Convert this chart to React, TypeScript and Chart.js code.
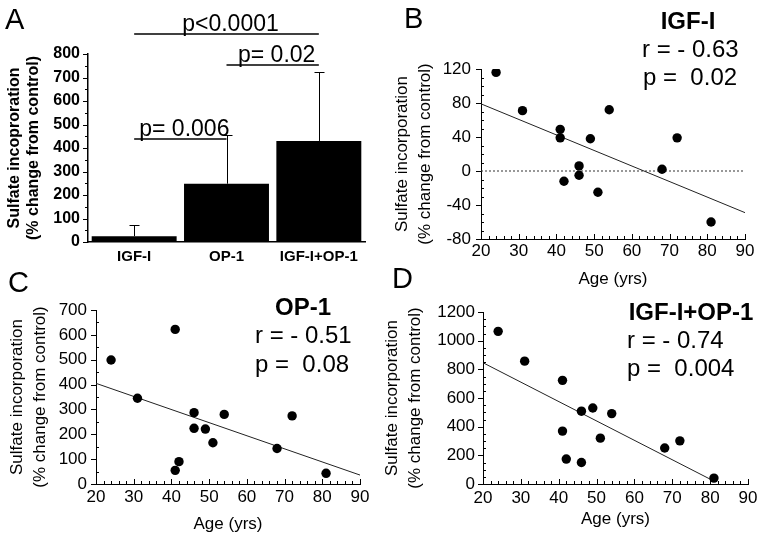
import React, { useEffect, useRef } from 'react';
import { Chart, registerables } from 'chart.js';

Chart.register(...registerables);

const FONT = "'Liberation Sans', Arial, Helvetica, sans-serif";

// ---------- Panel A data ----------
const barCategories = ['IGF-I', 'OP-1', 'IGF-I+OP-1'];
const barMeans = [25, 248, 430];
const barSD = [47, 207, 292];
const barYMin = 0;
const barYMax = 800;
const barYStep = 100;
const sigFrom = [0, 1, 0];
const sigTo = [1, 2, 2];
const sigLevel = [438, 753, 885];
const sigLabels = ['p= 0.006', 'p= 0.02', 'p<0.0001'];

// ---------- Panels B, C, D data ----------
const ages = [24, 31, 41, 41, 42, 46, 46, 49, 51, 54, 68, 72, 81];
const igfValues = [116, 71, 49, 39, -12, 6, -5, 38, -25, 72, 2, 39, -60];
const op1Values = [499, 345, 622, 55, 90, 287, 224, 221, 166, 280, 143, 274, 43];
const comboValues = [1065, 857, 723, 369, 174, 508, 150, 530, 320, 491, 251, 301, 41];

const igfFitX = [20, 90];
const igfFitY = [79, -49];
const op1FitX = [20, 90];
const op1FitY = [405, 36];
const comboFitX = [20, 80.5];
const comboFitY = [846, 27];
const zeroLineX = [20, 90];
const zeroLineY = [0, 0];

const ageMin = 20;
const ageMax = 90;
const ageStep = 10;

// ---------- helpers ----------
const fixW = (w: number) => (s: any) => {
  s.width = w;
  s.paddingTop = 0; s.paddingBottom = 0; s.paddingLeft = 0; s.paddingRight = 0;
};
const fixH = (h: number) => (s: any) => {
  s.height = h;
  s.paddingTop = 0; s.paddingBottom = 0; s.paddingLeft = 0; s.paddingRight = 0;
};
const plainTick = (v: any) => String(v);

type TickSpec = { axis: 'x' | 'y'; major: number; minor: number; majorOut: number; majorIn: number; minorOut: number; minorIn: number };

function makeTickPlugin(specs: TickSpec[]) {
  return {
    id: 'tickMarks',
    afterDraw(chart: any) {
      const ctx = chart.ctx;
      const area = chart.chartArea;
      ctx.save();
      ctx.strokeStyle = '#000';
      ctx.lineWidth = 1;
      ctx.beginPath();
      for (const s of specs) {
        const sc = chart.scales[s.axis];
        const n = Math.round((sc.max - sc.min) / s.minor);
        for (let i = 0; i <= n; i++) {
          const v = sc.min + i * s.minor;
          const r = v / s.major;
          const isMajor = Math.abs(r - Math.round(r)) < 1e-6;
          const out = isMajor ? s.majorOut : s.minorOut;
          const inn = isMajor ? s.majorIn : s.minorIn;
          const p = Math.round(sc.getPixelForValue(v)) + 0.5;
          if (s.axis === 'y') {
            const x0 = Math.round(area.left);
            ctx.moveTo(x0 - out, p);
            ctx.lineTo(x0 + inn, p);
          } else {
            const y0 = Math.round(area.bottom);
            ctx.moveTo(p, y0 + out);
            ctx.lineTo(p, y0 - inn);
          }
        }
      }
      ctx.stroke();
      ctx.restore();
    },
  };
}

type TextItem = { text: string; x: number; y: number; font: string; align?: CanvasTextAlign };

function makeTextPlugin(items: TextItem[]) {
  return {
    id: 'panelText',
    afterDraw(chart: any) {
      const ctx = chart.ctx;
      ctx.save();
      ctx.fillStyle = '#000';
      ctx.textBaseline = 'alphabetic';
      for (const t of items) {
        ctx.font = t.font;
        ctx.textAlign = t.align || 'left';
        ctx.fillText(t.text, t.x, t.y);
      }
      ctx.restore();
    },
  };
}

const errorBarPlugin = {
  id: 'errorBars',
  afterDatasetsDraw(chart: any) {
    const ctx = chart.ctx;
    const meta = chart.getDatasetMeta(0);
    const ys = chart.scales.y;
    ctx.save();
    ctx.strokeStyle = '#000';
    ctx.lineWidth = 1;
    meta.data.forEach((bar: any, i: number) => {
      const x = Math.round(bar.x) + 0.5;
      const top = Math.round(ys.getPixelForValue(barMeans[i] + barSD[i])) + 0.5;
      ctx.beginPath();
      ctx.moveTo(x, bar.y);
      ctx.lineTo(x, top);
      ctx.moveTo(x - 5, top);
      ctx.lineTo(x + 5, top);
      ctx.stroke();
    });
    ctx.restore();
  },
};

const sigPlugin = {
  id: 'sigLines',
  afterDraw(chart: any) {
    const ctx = chart.ctx;
    const xs = chart.scales.x;
    const ys = chart.scales.y;
    ctx.save();
    ctx.strokeStyle = '#000';
    ctx.fillStyle = '#000';
    ctx.lineWidth = 1.5;
    ctx.font = `23px ${FONT}`;
    ctx.textAlign = 'center';
    ctx.textBaseline = 'alphabetic';
    for (let i = 0; i < sigLabels.length; i++) {
      const x1 = xs.getPixelForValue(sigFrom[i]);
      const x2 = xs.getPixelForValue(sigTo[i]);
      const y = ys.getPixelForValue(sigLevel[i]);
      ctx.beginPath();
      ctx.moveTo(x1, y);
      ctx.lineTo(x2, y);
      ctx.stroke();
      ctx.fillText(sigLabels[i], (x1 + x2) / 2 + 4, y - 3);
    }
    ctx.restore();
  },
};

const pts = (xs: number[], ys: number[]) => xs.map((x, i) => ({ x, y: ys[i] }));

function scatterConfig(opts: {
  values: number[]; fitX: number[]; fitY: number[]; zero?: boolean;
  yMin: number; yMax: number; yStep: number; yMinor: number;
  padTop: number; padRight: number; yWidth: number; xHeight: number;
  yTitlePad: number; xTickPad: number; xTitlePadBottom: number; yTickPad: number;
  texts: TextItem[];
}) {
  const datasets: any[] = [
    {
      data: pts(ages, opts.values),
      pointRadius: 4.7,
      pointHoverRadius: 4.7,
      pointBackgroundColor: '#000',
      pointBorderWidth: 0,
      showLine: false,
    },
    {
      data: pts(opts.fitX, opts.fitY),
      showLine: true,
      borderColor: '#222',
      borderWidth: 1,
      pointRadius: 0,
      fill: false,
    },
  ];
  if (opts.zero) {
    datasets.push({
      data: pts(zeroLineX, zeroLineY),
      showLine: true,
      borderColor: '#333',
      borderWidth: 1,
      borderDash: [2, 2],
      pointRadius: 0,
      fill: false,
    });
  }
  return {
    type: 'scatter',
    data: { datasets },
    options: {
      responsive: false,
      animation: false,
      devicePixelRatio: 1,
      events: [],
      layout: { padding: { left: 0, top: opts.padTop, right: opts.padRight, bottom: 0 } },
      plugins: { legend: { display: false }, tooltip: { enabled: false } },
      scales: {
        x: {
          type: 'linear',
          min: ageMin,
          max: ageMax,
          grid: { display: false, drawTicks: false },
          border: { display: true, color: '#000', width: 1 },
          ticks: { stepSize: ageStep, color: '#000', font: { family: FONT, size: 17 }, padding: opts.xTickPad, callback: plainTick },
          title: { display: true, text: 'Age (yrs)', color: '#000', font: { family: FONT, size: 17 }, padding: { top: 0, bottom: opts.xTitlePadBottom } },
          afterFit: fixH(opts.xHeight),
        },
        y: {
          type: 'linear',
          min: opts.yMin,
          max: opts.yMax,
          grid: { display: false, drawTicks: false },
          border: { display: true, color: '#000', width: 1 },
          ticks: { stepSize: opts.yStep, color: '#000', font: { family: FONT, size: 17 }, padding: opts.yTickPad, callback: plainTick },
          title: {
            display: true,
            text: ['Sulfate incorporation', '(% change from control)'],
            color: '#000',
            font: { family: FONT, size: 17, lineHeight: 1.35 },
            padding: { top: opts.yTitlePad, bottom: 0 },
          },
          afterFit: fixW(opts.yWidth),
        },
      },
    },
    plugins: [
      makeTickPlugin([
        { axis: 'y', major: opts.yStep, minor: opts.yMinor, majorOut: 5, majorIn: 0, minorOut: 0, minorIn: 3 },
        { axis: 'x', major: ageStep, minor: 2, majorOut: 0, majorIn: 5, minorOut: 0, minorIn: 3 },
      ]),
      makeTextPlugin(opts.texts),
    ],
  };
}

function buildA() {
  return {
    type: 'bar',
    data: {
      labels: barCategories,
      datasets: [
        {
          data: barMeans,
          backgroundColor: '#000',
          borderWidth: 0,
          barPercentage: 0.92,
          categoryPercentage: 1,
        },
      ],
    },
    options: {
      responsive: false,
      animation: false,
      devicePixelRatio: 1,
      events: [],
      layout: { padding: { left: 0, top: 54, right: 17, bottom: 0 } },
      plugins: { legend: { display: false }, tooltip: { enabled: false } },
      scales: {
        x: {
          grid: { display: false, drawTicks: false },
          border: { display: true, color: '#000', width: 1.5 },
          ticks: { color: '#000', font: { family: FONT, size: 15, weight: 'bold' }, padding: 6 },
          afterFit: fixH(28),
        },
        y: {
          min: barYMin,
          max: barYMax,
          grid: { display: false, drawTicks: false },
          border: { display: true, color: '#000', width: 1.5 },
          ticks: { stepSize: barYStep, color: '#000', font: { family: FONT, size: 16, weight: 'bold' }, padding: 8, callback: plainTick },
          title: {
            display: true,
            text: ['Sulfate incoproration', '(% change from control)'],
            color: '#000',
            font: { family: FONT, size: 16, weight: 'bold', lineHeight: 1.15 },
            padding: { top: 5.8, bottom: 0 },
          },
          afterFit: fixW(88),
        },
      },
    },
    plugins: [
      makeTickPlugin([{ axis: 'y', major: barYStep, minor: 50, majorOut: 5, majorIn: 0, minorOut: 3, minorIn: 0 }]),
      errorBarPlugin,
      sigPlugin,
      makeTextPlugin([{ text: 'A', x: 5, y: 29, font: `29px ${FONT}` }]),
    ],
  };
}

function buildB() {
  return scatterConfig({
    values: igfValues, fitX: igfFitX, fitY: igfFitY, zero: true,
    yMin: -80, yMax: 120, yStep: 40, yMinor: 10,
    padTop: 69, padRight: 19, yWidth: 99, xHeight: 51,
    yTitlePad: 8.5, xTickPad: 2, xTitlePadBottom: 0, yTickPad: 10,
    texts: [
      { text: 'B', x: 22, y: 28, font: `29px ${FONT}` },
      { text: 'IGF-I', x: 306, y: 29, font: `bold 24px ${FONT}`, align: 'center' },
      { text: 'r = - 0.63', x: 260, y: 57, font: `24px ${FONT}` },
      { text: 'p =  0.02', x: 261, y: 85, font: `24px ${FONT}` },
    ],
  });
}

function buildC() {
  return scatterConfig({
    values: op1Values, fitX: op1FitX, fitY: op1FitY,
    yMin: 0, yMax: 700, yStep: 100, yMinor: 50,
    padTop: 55, padRight: 22, yWidth: 96, xHeight: 59,
    yTitlePad: 5.5, xTickPad: 3, xTitlePadBottom: 8, yTickPad: 9,
    texts: [
      { text: 'C', x: 8, y: 37, font: `29px ${FONT}` },
      { text: 'OP-1', x: 303, y: 60, font: `bold 24px ${FONT}`, align: 'center' },
      { text: 'r = - 0.51', x: 255, y: 88, font: `24px ${FONT}` },
      { text: 'p =  0.08', x: 255, y: 117, font: `24px ${FONT}` },
    ],
  });
}

function buildD() {
  return scatterConfig({
    values: comboValues, fitX: comboFitX, fitY: comboFitY,
    yMin: 0, yMax: 1200, yStep: 200, yMinor: 50,
    padTop: 57, padRight: 16, yWidth: 111, xHeight: 59,
    yTitlePad: 8.5, xTickPad: 4, xTitlePadBottom: 13, yTickPad: 8,
    texts: [
      { text: 'D', x: 20, y: 33, font: `29px ${FONT}` },
      { text: 'IGF-I+OP-1', x: 319, y: 65, font: `bold 24px ${FONT}`, align: 'center' },
      { text: 'r = - 0.74', x: 255, y: 93, font: `24px ${FONT}` },
      { text: 'p =  0.004', x: 255, y: 121, font: `24px ${FONT}` },
    ],
  });
}

function ChartCanvas({ x, y, w, h, build }: { x: number; y: number; w: number; h: number; build: () => any }) {
  const ref = useRef<HTMLCanvasElement>(null);
  useEffect(() => {
    const chart = new Chart(ref.current as HTMLCanvasElement, build());
    return () => chart.destroy();
  }, []);
  return (
    <canvas
      ref={ref}
      width={w}
      height={h}
      style={{ position: 'absolute', left: x, top: y, width: w, height: h }}
    />
  );
}

export default function App() {
  return (
    <div style={{ position: 'absolute', left: 0, top: 0, width: 764, height: 543, background: '#fff', overflow: 'hidden' }}>
      <ChartCanvas x={0} y={0} w={382} h={270} build={buildA} />
      <ChartCanvas x={0} y={255} w={382} h={288} build={buildC} />
      <ChartCanvas x={372} y={255} w={392} h={288} build={buildD} />
      <ChartCanvas x={382} y={0} w={382} h={290} build={buildB} />
    </div>
  );
}
